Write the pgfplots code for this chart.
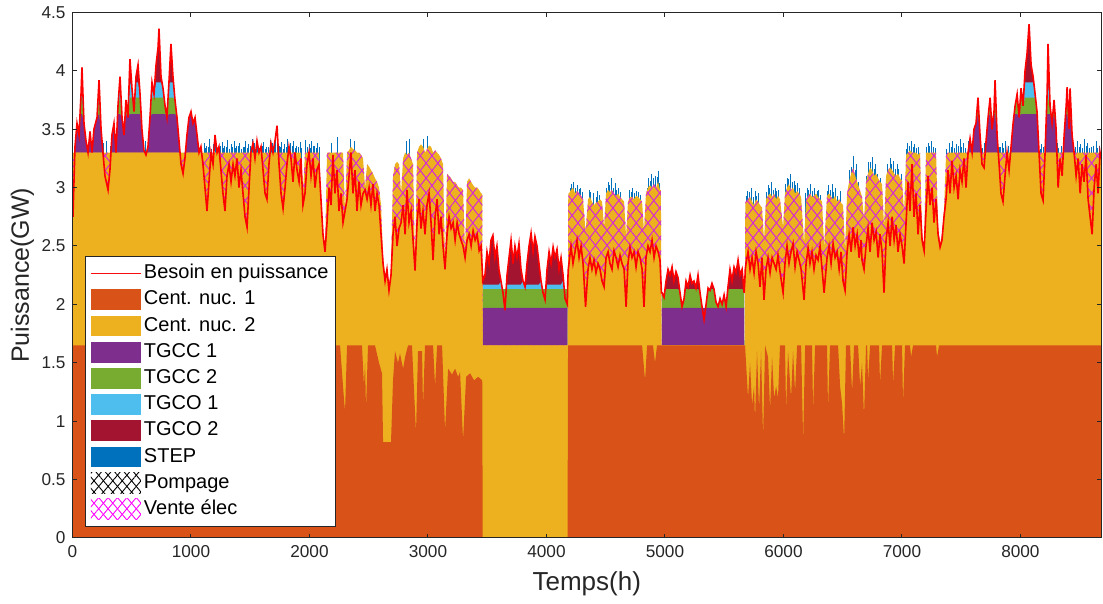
\documentclass[border=0pt]{standalone}
\usepackage{fontspec}
\setmainfont{Liberation Sans}
\usepackage{pgfplots}
\usepackage{pgfplotstable}
\pgfplotsset{compat=1.18}
\usetikzlibrary{patterns.meta}
\definecolor{nucA}{HTML}{D95319}
\definecolor{nucB}{HTML}{EDB120}
\definecolor{tgccA}{HTML}{7E2F8E}
\definecolor{tgccB}{HTML}{77AC30}
\definecolor{tgcoA}{HTML}{4DBEEE}
\definecolor{tgcoB}{HTML}{A2142F}
\definecolor{stepc}{HTML}{0072BD}
\definecolor{hatchc}{RGB}{215,40,215}
\definecolor{axcol}{RGB}{38,38,38}
\definecolor{demc}{RGB}{255,0,0}
\definecolor{demleg}{RGB}{250,12,12}

% main table: t, demand D, cumulative top of nuclear Y, M = nuclear part below demand
\pgfplotstableread{
t D Y M
4 2.75 3.3 2.75
21 3.35 3.3 3.3
38 3.55 3.3 3.3
55 3.45 3.3 3.3
72 3.8 3.3 3.3
80 4.03 3.3 3.3
97 3.55 3.3 3.3
114 3.4 3.3 3.3
131 3.3 3.3 3.3
148 3.48 3.3 3.3
165 3.3 3.3 3.3
181 3.5 3.3 3.3
207 3.6 3.3 3.3
224 3.92 3.3 3.3
241 3.5 3.3 3.3
257 3.3 3.3 3.3
274 3.1 3.3 3.1
300 2.98 3.3 2.98
316 3.15 3.3 3.15
333 3.45 3.3 3.3
350 3.55 3.3 3.3
367 3.3 3.3 3.3
384 3.7 3.3 3.3
401 3.95 3.3 3.3
418 3.6 3.3 3.3
435 3.45 3.3 3.3
451 3.75 3.3 3.3
468 3.6 3.3 3.3
485 4.1 3.3 3.3
502 3.85 3.3 3.3
519 3.65 3.3 3.3
536 3.95 3.3 3.3
553 4.05 3.3 3.3
570 3.8 3.3 3.3
586 3.5 3.3 3.3
603 3.32 3.3 3.3
620 3.28 3.3 3.28
637 3.35 3.3 3.3
654 3.6 3.3 3.3
671 3.9 3.3 3.3
688 3.8 3.3 3.3
705 4.05 3.3 3.3
722 4.2 3.3 3.3
730 4.36 3.3 3.3
747 3.95 3.3 3.3
764 3.85 3.3 3.3
781 3.7 3.3 3.3
797 3.6 3.3 3.3
814 3.9 3.3 3.3
831 4.23 3.3 3.3
848 3.95 3.3 3.3
865 3.75 3.3 3.3
882 3.6 3.3 3.3
899 3.4 3.3 3.3
916 3.2 3.3 3.2
933 3.12 3.3 3.12
949 3.25 3.3 3.25
966 3.45 3.3 3.3
983 3.6 3.3 3.3
1000 3.65 3.3 3.3
1017 3.55 3.3 3.3
1034 3.6 3.3 3.3
1051 3.45 3.3 3.3
1068 3.3 3.3 3.3
1084 3.35 3.3 3.3
1101 3.2 3.3 3.2
1118 3.0 3.3 3.0
1135 2.8 3.3 2.8
1152 3.05 3.3 3.05
1169 3.3 3.3 3.3
1186 3.2 3.3 3.2
1203 3.45 3.3 3.3
1220 3.3 3.3 3.3
1236 3.35 3.3 3.3
1253 3.15 3.3 3.15
1270 2.95 3.3 2.95
1287 2.8 3.3 2.8
1304 3.1 3.3 3.1
1321 3.2 3.3 3.2
1338 3.05 3.3 3.05
1355 3.2 3.3 3.2
1371 3.1 3.3 3.1
1388 3.25 3.3 3.25
1405 3.0 3.3 3.0
1422 3.15 3.3 3.15
1439 2.95 3.3 2.95
1456 2.75 3.3 2.75
1473 2.66 3.3 2.66
1490 3.0 3.3 3.0
1506 3.3 3.3 3.3
1523 3.38 3.3 3.3
1540 3.25 3.3 3.25
1557 3.4 3.3 3.3
1574 3.3 3.3 3.3
1591 3.35 3.3 3.3
1608 3.15 3.3 3.15
1625 2.95 3.3 2.95
1641 2.9 3.3 2.9
1658 3.2 3.3 3.2
1675 3.38 3.3 3.3
1692 3.3 3.3 3.3
1709 3.4 3.3 3.3
1726 3.53 3.3 3.3
1743 3.2 3.3 3.2
1760 2.95 3.3 2.95
1777 2.82 3.3 2.82
1794 3.0 3.3 3.0
1810 3.2 3.3 3.2
1827 3.35 3.3 3.3
1844 3.25 3.3 3.25
1861 3.05 3.3 3.05
1878 3.3 3.3 3.3
1895 3.15 3.3 3.15
1912 3.05 3.3 3.05
1928 3.25 3.3 3.25
1945 2.85 2.95 2.85
1962 2.95 3.3 2.95
1979 3.2 3.3 3.2
1996 3.3 3.3 3.3
2013 3.1 3.3 3.1
2030 3.25 3.3 3.25
2047 3.0 3.3 3.0
2063 3.15 3.3 3.15
2080 3.2 3.3 3.2
2097 2.9 2.9 2.9
2114 2.6 2.6 2.6
2131 2.45 2.45 2.45
2148 2.7 3.3 2.7
2165 3.0 3.3 3.0
2182 2.85 3.3 2.85
2198 3.28 3.3 3.28
2215 2.95 3.3 2.95
2232 3.15 3.3 3.15
2249 2.8 3.3 2.8
2266 2.95 3.3 2.95
2283 2.7 3.3 2.7
2300 2.8 2.8 2.8
2317 2.9 3.3 2.9
2334 3.1 3.32 3.1
2350 3.3 3.35 3.3
2367 2.95 3.33 2.95
2384 3.15 3.32 3.15
2401 2.8 3.3 2.8
2418 3.05 3.3 3.05
2435 2.85 3.28 2.85
2452 2.95 3.25 2.95
2469 2.98 3.0 2.98
2486 2.9 3.2 2.9
2503 3.0 3.18 3.0
2519 2.85 3.15 2.85
2536 3.03 3.12 3.03
2553 2.8 3.08 2.8
2570 2.95 3.05 2.95
2587 2.85 3.0 2.85
2604 2.6 2.85 2.6
2621 2.35 2.4 2.35
2638 2.2 2.25 2.2
2654 2.3 2.32 2.3
2671 2.12 2.15 2.12
2688 2.25 2.3 2.25
2705 2.6 3.1 2.6
2722 2.75 3.2 2.75
2739 2.5 3.22 2.5
2756 2.65 3.2 2.65
2773 2.7 2.95 2.7
2790 2.85 3.25 2.85
2807 2.6 3.3 2.6
2823 2.98 3.28 2.98
2840 2.7 3.3 2.7
2857 2.8 3.25 2.8
2874 2.55 3.2 2.55
2891 2.29 2.35 2.29
2908 2.7 3.3 2.7
2925 2.9 3.35 2.9
2941 2.65 3.37 2.65
2958 2.8 3.35 2.8
2975 2.6 3.3 2.6
2992 2.85 3.33 2.85
3009 2.95 3.36 2.95
3026 2.7 3.35 2.7
3043 2.38 3.3 2.38
3060 2.75 3.32 2.75
3077 2.9 3.3 2.9
3094 2.6 3.28 2.6
3110 2.75 3.25 2.75
3127 2.5 3.2 2.5
3144 2.3 2.35 2.3
3161 2.6 3.12 2.6
3178 2.75 3.1 2.75
3195 2.65 3.08 2.65
3212 2.7 3.05 2.7
3229 2.55 3.05 2.55
3246 2.7 3.02 2.7
3263 2.6 3.0 2.6
3279 2.55 3.0 2.55
3296 2.5 2.98 2.5
3313 2.4 2.45 2.4
3330 2.55 3.05 2.55
3347 2.6 3.08 2.6
3364 2.5 3.05 2.5
3381 2.63 3.02 2.63
3398 2.55 3.0 2.55
3415 2.6 3.0 2.6
3432 2.46 2.98 2.46
3448 2.5 2.95 2.5
3458 2.3 2.95 2.3
3462 2.2 1.65 1.65
3481 2.25 1.65 1.65
3498 2.45 1.65 1.65
3515 2.35 1.65 1.65
3532 2.55 1.65 1.65
3548 2.59 1.65 1.65
3565 2.4 1.65 1.65
3582 2.5 1.65 1.65
3599 2.3 1.65 1.65
3616 2.2 1.65 1.65
3633 2.1 1.65 1.65
3650 1.95 1.65 1.65
3667 2.25 1.65 1.65
3684 2.4 1.65 1.65
3701 2.55 1.65 1.65
3718 2.35 1.65 1.65
3734 2.5 1.65 1.65
3751 2.4 1.65 1.65
3768 2.52 1.65 1.65
3785 2.3 1.65 1.65
3802 2.2 1.65 1.65
3819 2.15 1.65 1.65
3836 2.35 1.65 1.65
3853 2.5 1.65 1.65
3870 2.61 1.65 1.65
3887 2.45 1.65 1.65
3903 2.58 1.65 1.65
3920 2.5 1.65 1.65
3937 2.35 1.65 1.65
3954 2.2 1.65 1.65
3971 2.1 1.65 1.65
3988 2.04 1.65 1.65
4005 2.3 1.65 1.65
4022 2.45 1.65 1.65
4039 2.35 1.65 1.65
4056 2.49 1.65 1.65
4072 2.4 1.65 1.65
4089 2.47 1.65 1.65
4106 2.3 1.65 1.65
4123 2.4 1.65 1.65
4140 2.25 1.65 1.65
4157 2.05 1.65 1.65
4176 2.0 1.65 1.65
4180 2.2 1.65 1.65
4184 2.3 2.95 2.3
4190 2.35 2.95 2.35
4207 2.5 2.98 2.5
4224 2.35 3.0 2.35
4241 2.45 2.95 2.45
4258 2.55 2.97 2.55
4275 2.4 2.95 2.4
4292 2.5 2.93 2.5
4309 2.35 2.9 2.35
4330 1.98 2.62 1.98
4351 2.3 2.9 2.3
4367 2.4 2.92 2.4
4384 2.3 2.88 2.3
4401 2.38 2.85 2.38
4418 2.27 2.87 2.27
4435 2.35 2.88 2.35
4452 2.3 2.9 2.3
4469 2.2 2.88 2.2
4486 2.15 2.66 2.15
4503 2.4 2.95 2.4
4520 2.45 2.98 2.45
4536 2.35 2.96 2.35
4553 2.3 2.98 2.3
4570 2.46 2.95 2.46
4587 2.4 2.93 2.4
4604 2.32 2.95 2.32
4621 2.42 2.92 2.42
4638 2.35 2.9 2.35
4655 2.3 2.88 2.3
4672 1.98 2.58 1.98
4688 2.35 2.88 2.35
4705 2.49 2.92 2.49
4722 2.4 2.92 2.4
4739 2.45 2.9 2.45
4756 2.32 2.93 2.32
4773 2.45 2.92 2.45
4790 2.4 2.9 2.4
4807 2.3 2.88 2.3
4823 1.98 2.63 1.98
4840 2.4 2.95 2.4
4857 2.5 3.0 2.5
4874 2.45 3.02 2.45
4891 2.55 3.0 2.55
4908 2.4 3.03 2.4
4925 2.5 3.0 2.5
4942 2.45 3.05 2.45
4958 2.38 2.98 2.38
4966 2.2 2.98 2.2
4970 2.1 1.65 1.65
4975 2.1 1.65 1.65
4992 2.06 1.65 1.65
5009 2.2 1.65 1.65
5026 2.3 1.65 1.65
5043 2.25 1.65 1.65
5060 2.32 1.65 1.65
5076 2.2 1.65 1.65
5093 2.28 1.65 1.65
5110 2.23 1.65 1.65
5127 2.1 1.65 1.65
5144 1.98 1.65 1.65
5161 2.05 1.65 1.65
5178 2.2 1.65 1.65
5195 2.15 1.65 1.65
5212 2.25 1.65 1.65
5228 2.18 1.65 1.65
5245 2.2 1.65 1.65
5262 2.14 1.65 1.65
5279 2.25 1.65 1.65
5296 2.1 1.65 1.65
5313 1.98 1.65 1.65
5330 1.87 1.65 1.65
5347 2.0 1.65 1.65
5364 2.14 1.65 1.65
5380 2.12 1.65 1.65
5397 2.18 1.65 1.65
5414 2.13 1.65 1.65
5431 2.02 1.65 1.65
5448 1.98 1.65 1.65
5465 2.05 1.65 1.65
5482 2.0 1.65 1.65
5499 2.08 1.65 1.65
5516 1.98 1.65 1.65
5532 2.15 1.65 1.65
5549 2.3 1.65 1.65
5566 2.2 1.65 1.65
5583 2.32 1.65 1.65
5600 2.27 1.65 1.65
5617 2.38 1.65 1.65
5634 2.25 1.65 1.65
5651 2.3 1.65 1.65
5668 2.1 1.65 1.65
5674 2.2 1.65 1.65
5678 2.3 2.88 2.3
5684 2.35 2.88 2.35
5701 2.45 2.9 2.45
5718 2.3 2.92 2.3
5735 2.4 2.88 2.4
5752 2.27 2.85 2.27
5769 2.45 2.9 2.45
5786 2.35 2.88 2.35
5802 2.15 2.85 2.15
5819 2.4 2.83 2.4
5836 2.04 2.55 2.04
5853 2.3 2.9 2.3
5870 2.4 2.93 2.4
5887 2.27 2.95 2.27
5904 2.4 2.92 2.4
5921 2.35 2.95 2.35
5938 2.3 2.9 2.3
5954 2.42 2.93 2.42
5971 2.28 2.9 2.28
5997 2.1 2.66 2.1
6013 2.35 2.95 2.35
6030 2.5 3.0 2.5
6047 2.35 3.03 2.35
6064 2.45 2.98 2.45
6081 2.52 3.0 2.52
6098 2.32 2.95 2.32
6115 2.45 2.97 2.45
6132 2.38 2.95 2.38
6149 2.3 2.92 2.3
6174 2.04 2.52 2.04
6191 2.35 2.9 2.35
6208 2.48 2.93 2.48
6224 2.35 2.95 2.35
6241 2.45 2.92 2.45
6258 2.3 2.93 2.3
6275 2.42 2.95 2.42
6292 2.38 2.92 2.38
6309 2.5 2.9 2.5
6326 2.3 2.88 2.3
6343 2.1 2.49 2.1
6368 2.4 2.93 2.4
6385 2.5 2.95 2.5
6402 2.35 2.92 2.35
6419 2.52 2.9 2.52
6436 2.4 2.93 2.4
6453 2.45 2.88 2.45
6470 2.3 2.9 2.3
6486 2.45 2.87 2.45
6503 2.2 2.85 2.2
6520 2.12 2.46 2.12
6537 2.45 2.95 2.45
6554 2.6 3.05 2.6
6571 2.45 3.12 2.45
6588 2.66 3.17 2.66
6605 2.5 3.1 2.5
6622 2.6 3.05 2.6
6638 2.4 3.0 2.4
6655 2.55 2.95 2.55
6663 2.38 2.92 2.38
6680 2.3 2.72 2.3
6697 2.5 3.05 2.5
6714 2.65 3.12 2.65
6731 2.45 3.17 2.45
6748 2.7 3.15 2.7
6765 2.55 3.1 2.55
6782 2.62 3.12 2.62
6799 2.4 3.08 2.4
6815 2.6 3.05 2.6
6832 2.45 3.03 2.45
6849 2.1 2.66 2.1
6866 2.55 3.1 2.55
6883 2.7 3.15 2.7
6900 2.5 3.17 2.5
6917 2.75 3.15 2.75
6934 2.55 3.12 2.55
6950 2.68 3.1 2.68
6967 2.45 3.12 2.45
6984 2.6 3.08 2.6
7001 2.5 3.06 2.5
7018 2.35 2.78 2.35
7035 2.7 3.28 2.7
7052 3.05 3.3 3.05
7068 2.8 3.32 2.8
7085 3.2 3.3 3.2
7102 2.75 3.3 2.75
7119 2.95 3.3 2.95
7136 2.6 3.28 2.6
7153 2.85 3.3 2.85
7170 2.55 2.6 2.55
7187 2.46 2.5 2.46
7203 2.8 3.3 2.8
7220 3.1 3.3 3.1
7237 2.85 3.3 2.85
7254 3.0 3.3 3.0
7271 2.7 3.3 2.7
7288 2.9 3.3 2.9
7305 2.6 2.65 2.6
7322 2.49 2.52 2.49
7338 2.55 2.6 2.55
7355 2.75 2.8 2.75
7372 2.9 3.28 2.9
7389 3.15 3.3 3.15
7406 2.95 3.3 2.95
7423 3.23 3.3 3.23
7440 3.0 3.3 3.0
7457 3.1 3.3 3.1
7474 2.9 3.3 2.9
7490 3.15 3.3 3.15
7507 3.05 3.3 3.05
7524 3.25 3.3 3.25
7541 3.0 3.3 3.0
7558 3.3 3.3 3.3
7575 3.42 3.3 3.3
7592 3.3 3.3 3.3
7608 3.5 3.3 3.3
7625 3.55 3.3 3.3
7642 3.77 3.3 3.3
7659 3.45 3.3 3.3
7676 3.2 3.3 3.2
7693 3.17 3.3 3.17
7710 3.4 3.3 3.3
7727 3.6 3.3 3.3
7744 3.77 3.3 3.3
7760 3.5 3.3 3.3
7777 3.65 3.3 3.3
7786 3.92 3.3 3.3
7803 3.45 3.3 3.3
7820 3.2 3.3 3.2
7836 2.95 3.3 2.95
7853 2.88 3.3 2.88
7870 3.1 3.3 3.1
7887 3.3 3.3 3.3
7904 3.15 3.3 3.15
7921 3.35 3.3 3.3
7938 3.55 3.3 3.3
7955 3.7 3.3 3.3
7972 3.8 3.3 3.3
7989 3.6 3.3 3.3
8005 3.85 3.3 3.3
8022 3.7 3.3 3.3
8039 4.0 3.3 3.3
8056 4.15 3.3 3.3
8073 4.4 3.3 3.3
8090 4.05 3.3 3.3
8107 3.95 3.3 3.3
8124 3.8 3.3 3.3
8140 3.65 3.3 3.3
8157 3.3 3.3 3.3
8174 2.95 3.3 2.95
8191 2.89 3.3 2.89
8208 3.3 3.3 3.3
8225 3.8 3.3 3.3
8233 4.23 3.3 3.3
8250 3.7 3.3 3.3
8267 3.55 3.3 3.3
8284 3.75 3.3 3.3
8301 3.5 3.3 3.3
8318 3.0 3.3 3.0
8335 3.25 3.3 3.25
8352 3.1 3.3 3.1
8369 3.45 3.3 3.3
8386 3.7 3.3 3.3
8394 3.86 3.3 3.3
8411 3.5 3.3 3.3
8419 3.85 3.3 3.3
8436 3.45 3.3 3.3
8453 3.3 3.3 3.3
8470 3.1 3.3 3.1
8487 3.25 3.3 3.25
8504 2.95 3.3 2.95
8520 3.2 3.3 3.2
8537 3.05 3.3 3.05
8554 3.28 3.3 3.28
8571 2.9 3.3 2.9
8588 2.75 3.3 2.75
8605 2.6 3.3 2.6
8622 3.0 3.3 3.0
8639 3.2 3.3 3.2
8655 2.95 3.3 2.95
8672 3.3 3.3 3.3
8680 3.25 3.3 3.25
}\mainT

% cumulative tops of TGCC 1 (P), TGCC 2 (G), TGCO 1 (B), TGCO 2 (R)
\pgfplotstableread{
t P G B R
4 2.75 2.75 2.75 2.75
21 3.35 3.35 3.35 3.35
38 3.55 3.55 3.55 3.55
55 3.45 3.45 3.45 3.45
72 3.63 3.77 3.8 3.8
80 3.63 3.77 3.9 4.03
97 3.55 3.55 3.55 3.55
114 3.4 3.4 3.4 3.4
131 3.3 3.3 3.3 3.3
148 3.48 3.48 3.48 3.48
165 3.3 3.3 3.3 3.3
181 3.5 3.5 3.5 3.5
207 3.6 3.6 3.6 3.6
224 3.63 3.77 3.9 3.92
241 3.5 3.5 3.5 3.5
257 3.3 3.3 3.3 3.3
274 3.1 3.1 3.1 3.1
300 2.98 2.98 2.98 2.98
316 3.15 3.15 3.15 3.15
333 3.45 3.45 3.45 3.45
350 3.55 3.55 3.55 3.55
367 3.3 3.3 3.3 3.3
384 3.63 3.7 3.7 3.7
401 3.63 3.77 3.9 3.95
418 3.6 3.6 3.6 3.6
435 3.45 3.45 3.45 3.45
451 3.63 3.75 3.75 3.75
468 3.6 3.6 3.6 3.6
485 3.63 3.77 3.9 4.1
502 3.63 3.77 3.85 3.85
519 3.63 3.65 3.65 3.65
536 3.63 3.77 3.9 3.95
553 3.63 3.77 3.9 4.05
570 3.63 3.77 3.8 3.8
586 3.5 3.5 3.5 3.5
603 3.32 3.32 3.32 3.32
620 3.28 3.28 3.28 3.28
637 3.35 3.35 3.35 3.35
654 3.6 3.6 3.6 3.6
671 3.63 3.77 3.9 3.9
688 3.63 3.77 3.8 3.8
705 3.63 3.77 3.9 4.05
722 3.63 3.77 3.9 4.2
730 3.63 3.77 3.9 4.36
747 3.63 3.77 3.9 3.95
764 3.63 3.77 3.85 3.85
781 3.63 3.7 3.7 3.7
797 3.6 3.6 3.6 3.6
814 3.63 3.77 3.9 3.9
831 3.63 3.77 3.9 4.23
848 3.63 3.77 3.9 3.95
865 3.63 3.75 3.75 3.75
882 3.6 3.6 3.6 3.6
899 3.4 3.4 3.4 3.4
916 3.2 3.2 3.2 3.2
933 3.12 3.12 3.12 3.12
949 3.25 3.25 3.25 3.25
966 3.45 3.45 3.45 3.45
983 3.6 3.6 3.6 3.6
1000 3.63 3.65 3.65 3.65
1017 3.55 3.55 3.55 3.55
1034 3.6 3.6 3.6 3.6
1051 3.45 3.45 3.45 3.45
1068 3.3 3.3 3.3 3.3
1084 3.35 3.35 3.35 3.35
1092 0 0 0 0
3455 0 0 0 0
3462 1.97 2.13 2.17 2.2
3481 1.97 2.13 2.17 2.25
3498 1.97 2.13 2.17 2.45
3515 1.97 2.13 2.17 2.35
3532 1.97 2.13 2.17 2.55
3548 1.97 2.13 2.17 2.59
3565 1.97 2.13 2.17 2.4
3582 1.97 2.13 2.17 2.5
3599 1.97 2.13 2.17 2.3
3616 1.97 2.13 2.2 2.2
3633 1.97 2.13 2.1 2.1
3650 1.97 2.13 1.95 1.95
3667 1.97 2.13 2.17 2.25
3684 1.97 2.13 2.17 2.4
3701 1.97 2.13 2.17 2.55
3718 1.97 2.13 2.17 2.35
3734 1.97 2.13 2.17 2.5
3751 1.97 2.13 2.17 2.4
3768 1.97 2.13 2.17 2.52
3785 1.97 2.13 2.17 2.3
3802 1.97 2.13 2.2 2.2
3819 1.97 2.13 2.15 2.15
3836 1.97 2.13 2.17 2.35
3853 1.97 2.13 2.17 2.5
3870 1.97 2.13 2.17 2.61
3887 1.97 2.13 2.17 2.45
3903 1.97 2.13 2.17 2.58
3920 1.97 2.13 2.17 2.5
3937 1.97 2.13 2.17 2.35
3954 1.97 2.13 2.2 2.2
3971 1.97 2.13 2.1 2.1
3988 1.97 2.13 2.04 2.04
4005 1.97 2.13 2.17 2.3
4022 1.97 2.13 2.17 2.45
4039 1.97 2.13 2.17 2.35
4056 1.97 2.13 2.17 2.49
4072 1.97 2.13 2.17 2.4
4089 1.97 2.13 2.17 2.47
4106 1.97 2.13 2.17 2.3
4123 1.97 2.13 2.17 2.4
4140 1.97 2.13 2.2 2.25
4157 1.97 2.13 2.05 2.05
4176 1.97 2.13 2.0 2.0
4180 0 0 0 0
4970 0 0 0 0
4975 1.97 2.1 2.1 2.1
4992 1.97 2.06 2.06 2.06
5009 1.97 2.13 2.13 2.2
5026 1.97 2.13 2.13 2.3
5043 1.97 2.13 2.13 2.25
5060 1.97 2.13 2.13 2.32
5076 1.97 2.13 2.13 2.2
5093 1.97 2.13 2.13 2.28
5110 1.97 2.13 2.13 2.23
5127 1.97 2.1 2.1 2.1
5144 1.97 1.98 1.98 1.98
5161 1.97 2.05 2.05 2.05
5178 1.97 2.13 2.13 2.2
5195 1.97 2.13 2.13 2.15
5212 1.97 2.13 2.13 2.25
5228 1.97 2.13 2.13 2.18
5245 1.97 2.13 2.13 2.2
5262 1.97 2.13 2.13 2.14
5279 1.97 2.13 2.13 2.25
5296 1.97 2.1 2.1 2.1
5313 1.97 1.98 1.98 1.98
5330 1.97 1.87 1.87 1.87
5347 1.97 2.0 2.0 2.0
5364 1.97 2.13 2.13 2.14
5380 1.97 2.12 2.12 2.12
5397 1.97 2.13 2.13 2.18
5414 1.97 2.13 2.13 2.13
5431 1.97 2.02 2.02 2.02
5448 1.97 1.98 1.98 1.98
5465 1.97 2.05 2.05 2.05
5482 1.97 2.0 2.0 2.0
5499 1.97 2.08 2.08 2.08
5516 1.97 1.98 1.98 1.98
5532 1.97 2.13 2.13 2.15
5549 1.97 2.13 2.13 2.3
5566 1.97 2.13 2.13 2.2
5583 1.97 2.13 2.13 2.32
5600 1.97 2.13 2.13 2.27
5617 1.97 2.13 2.13 2.38
5634 1.97 2.13 2.13 2.25
5651 1.97 2.13 2.13 2.3
5668 1.97 2.1 2.1 2.1
5674 0 0 0 0
7550 0 0 0 0
7558 3.3 3.3 3.3 3.3
7575 3.42 3.42 3.42 3.42
7592 3.3 3.3 3.3 3.3
7608 3.5 3.5 3.5 3.5
7625 3.55 3.55 3.55 3.55
7642 3.63 3.77 3.77 3.77
7659 3.45 3.45 3.45 3.45
7676 3.2 3.2 3.2 3.2
7693 3.17 3.17 3.17 3.17
7710 3.4 3.4 3.4 3.4
7727 3.6 3.6 3.6 3.6
7744 3.63 3.77 3.77 3.77
7760 3.5 3.5 3.5 3.5
7777 3.63 3.65 3.65 3.65
7786 3.63 3.77 3.9 3.92
7803 3.45 3.45 3.45 3.45
7820 3.2 3.2 3.2 3.2
7836 2.95 2.95 2.95 2.95
7853 2.88 2.88 2.88 2.88
7870 3.1 3.1 3.1 3.1
7887 3.3 3.3 3.3 3.3
7904 3.15 3.15 3.15 3.15
7921 3.35 3.35 3.35 3.35
7938 3.55 3.55 3.55 3.55
7955 3.63 3.7 3.7 3.7
7972 3.63 3.77 3.8 3.8
7989 3.6 3.6 3.6 3.6
8005 3.63 3.77 3.85 3.85
8022 3.63 3.7 3.7 3.7
8039 3.63 3.77 3.9 4.0
8056 3.63 3.77 3.9 4.15
8073 3.63 3.77 3.9 4.4
8090 3.63 3.77 3.9 4.05
8107 3.63 3.77 3.9 3.95
8124 3.63 3.77 3.8 3.8
8140 3.63 3.65 3.65 3.65
8157 3.3 3.3 3.3 3.3
8174 2.95 2.95 2.95 2.95
8191 2.89 2.89 2.89 2.89
8208 3.3 3.3 3.3 3.3
8225 3.63 3.77 3.8 3.8
8233 3.63 3.77 3.9 4.23
8250 3.63 3.7 3.7 3.7
8267 3.55 3.55 3.55 3.55
8284 3.63 3.75 3.75 3.75
8301 3.5 3.5 3.5 3.5
8318 3.0 3.0 3.0 3.0
8335 3.25 3.25 3.25 3.25
8352 3.1 3.1 3.1 3.1
8369 3.45 3.45 3.45 3.45
8386 3.63 3.7 3.7 3.7
8394 3.63 3.77 3.86 3.86
8411 3.5 3.5 3.5 3.5
8419 3.63 3.77 3.85 3.85
8436 3.45 3.45 3.45 3.45
8453 3.3 3.3 3.3 3.3
8470 3.1 3.1 3.1 3.1
}\layT

% top of Cent. nuc. 1
\pgfplotstableread{
t n
0 1.65
2258 1.65
2283 1.3
2300 1.08
2317 1.65
2443 1.65
2460 1.3
2469 1.5
2477 1.1
2494 1.65
2553 1.65
2587 1.5
2612 1.41
2621 0.82
2688 0.82
2705 1.35
2722 1.6
2747 1.5
2764 1.58
2790 1.45
2807 1.55
2832 1.65
2865 1.65
2899 0.9
2916 1.6
2950 1.6
2958 1.12
2975 1.65
3043 1.65
3060 1.3
3077 1.65
3119 1.65
3144 0.92
3170 1.45
3203 1.4
3229 1.45
3254 1.38
3271 1.42
3296 0.84
3322 1.38
3356 1.41
3389 1.35
3423 1.38
3458 1.35
3462 0
4178 0
4182 1.65
4807 1.65
4832 1.35
4849 1.65
4899 1.65
4916 1.5
4933 1.65
5676 1.65
5701 1.2
5718 1.5
5735 1.14
5752 1.3
5760 1.01
5777 1.6
5794 1.1
5811 1.6
5828 0.86
5845 1.65
5870 1.55
5887 1.1
5904 1.55
5921 1.2
5938 1.3
5954 1.2
5971 1.65
6013 1.65
6022 1.1
6039 1.6
6064 1.2
6081 1.6
6098 1.25
6115 1.65
6149 1.65
6166 0.84
6183 1.65
6241 1.65
6250 1.1
6267 1.65
6368 1.65
6376 1.1
6393 1.65
6461 1.65
6478 1.3
6495 1.15
6512 0.84
6528 1.65
6562 1.65
6579 1.25
6596 1.65
6630 1.65
6647 1.3
6663 1.5
6680 1.04
6697 1.65
6706 1.65
6714 1.35
6731 1.65
6807 1.65
6815 1.32
6832 1.65
6917 1.65
6925 1.32
6942 1.65
7001 1.65
7009 1.15
7026 1.65
7068 1.65
7077 1.55
7094 1.65
7288 1.65
7296 1.55
7313 1.65
8680 1.65
}\nucT

% STEP peaks
\pgfplotstableread{
t s
260 3.38
290 3.4
320 3.36
620 3.4
1110 3.38
1122 3.34
1135 3.36
1148 3.35
1160 3.42
1173 3.33
1186 3.37
1203 3.45
1211 3.4
1224 3.34
1236 3.35
1249 3.36
1262 3.39
1275 3.34
1287 3.36
1300 3.35
1312 3.41
1325 3.33
1338 3.37
1350 3.35
1363 3.4
1376 3.34
1388 3.36
1401 3.36
1413 3.38
1426 3.33
1439 3.35
1452 3.35
1464 3.4
1477 3.34
1489 3.37
1502 3.36
1515 3.42
1523 3.38
1528 3.34
1540 3.38
1553 3.35
1557 3.4
1565 3.4
1578 3.34
1591 3.36
1604 3.36
1616 3.39
1629 3.33
1641 3.35
1654 3.35
1667 3.41
1680 3.34
1692 3.38
1705 3.36
1709 3.4
1717 3.4
1726 3.53
1730 3.34
1743 3.36
1756 3.35
1768 3.39
1781 3.33
1793 3.37
1806 3.35
1818 3.42
1827 3.35
1831 3.34
1844 3.38
1857 3.36
1869 3.4
1882 3.34
1894 3.36
1907 3.35
1920 3.39
1932 3.34
1970 3.41
1983 3.35
1996 3.37
2008 3.34
2021 3.4
2034 3.36
2046 3.36
2059 3.34
2071 3.38
2084 3.35
2190 3.38
2240 3.43
2350 3.42
2380 3.4
2820 3.4
2840 3.42
2960 3.42
3000 3.44
4200 3.0
4215 3.03
4230 3.05
4245 3.0
4260 3.02
4275 2.99
4290 3.0
4300 2.96
4360 2.98
4375 2.96
4400 2.95
4420 2.92
4430 2.97
4445 2.94
4510 3.0
4520 3.05
4535 3.02
4550 3.08
4565 3.0
4580 3.04
4595 2.98
4610 3.0
4625 2.96
4700 2.98
4715 2.96
4730 3.0
4745 2.95
4760 2.97
4775 2.96
4795 2.94
4850 3.0
4860 3.08
4875 3.06
4890 3.12
4905 3.08
4920 3.1
4935 3.09
4945 3.14
4955 3.04
5690 2.93
5700 2.97
5715 2.96
5730 3.0
5745 2.92
5760 2.97
5775 2.93
5790 2.95
5860 2.96
5870 3.02
5885 3.0
5900 3.05
5915 2.98
5930 3.0
5945 2.97
5960 2.98
6020 3.03
6030 3.08
6045 3.07
6060 3.12
6075 3.05
6090 3.06
6105 3.02
6120 3.04
6135 3.0
6190 2.95
6200 3.0
6215 2.98
6230 3.03
6245 2.97
6260 3.0
6285 2.97
6300 2.98
6315 2.94
6375 2.97
6380 3.02
6395 2.98
6410 3.03
6425 2.96
6440 3.0
6455 2.93
6480 2.97
6545 3.0
6560 3.15
6575 3.18
6590 3.27
6605 3.15
6620 3.2
6635 3.05
6705 3.1
6720 3.22
6735 3.22
6750 3.26
6765 3.16
6780 3.2
6795 3.12
6820 3.08
6875 3.2
6900 3.25
6915 3.2
6930 3.23
6945 3.16
6960 3.2
6975 3.16
6995 3.12
7040 3.33
7050 3.38
7065 3.36
7080 3.4
7095 3.35
7110 3.37
7125 3.34
7140 3.35
7210 3.35
7220 3.38
7235 3.36
7250 3.4
7265 3.35
7280 3.34
7380 3.33
7400 3.38
7415 3.35
7430 3.4
7445 3.34
7460 3.37
7475 3.36
7490 3.42
7505 3.35
7520 3.38
7535 3.34
7560 3.4
7580 3.36
7600 3.45
7680 3.34
7700 3.38
7820 3.35
7830 3.35
7845 3.38
7860 3.34
7870 3.4
7900 3.36
8170 3.33
8180 3.37
8195 3.35
8310 3.38
8325 3.34
8345 3.36
8465 3.35
8480 3.4
8495 3.35
8510 3.37
8525 3.34
8540 3.42
8555 3.36
8570 3.38
8585 3.34
8600 3.35
8615 3.36
8640 3.4
8650 3.34
8670 3.36
}\stepT

\begin{document}
\begin{tikzpicture}
\begin{axis}[
  name=ax,
  scale only axis,
  width=514.25pt, height=262.8pt,
  xmin=0, xmax=8680, ymin=0, ymax=4.5,
  xtick={0,1000,2000,3000,4000,5000,6000,7000,8000},
  ytick={0,0.5,1,1.5,2,2.5,3,3.5,4,4.5},
  tick align=inside,
  major tick length=2.2pt,
  axis on top,
  axis line style={draw=axcol, line width=0.5pt},
  every tick/.style={draw=axcol, line width=0.5pt},
  tick label style={font=\fontsize{8.6}{10}\selectfont, text=axcol},
  /pgf/number format/assume math mode=true,
  /pgf/number format/1000 sep={},
  xlabel={Temps(h)}, ylabel={Puissance(GW)},
  every axis x label/.style={at={(axis description cs:0.5,0)}, yshift=-23pt, anchor=center, font=\fontsize{13}{15}\selectfont, text=axcol},
  every axis y label/.style={at={(axis description cs:0,0.5)}, xshift=-25pt, rotate=90, anchor=center, font=\fontsize{12.5}{15}\selectfont, text=axcol},
  legend cell align=left,
  legend style={at={(axis description cs:0.0126,0.021)}, anchor=south west,
    draw=axcol, line width=0.5pt, fill=white, inner sep=2.5pt,
    font=\fontsize{10}{12}\selectfont, row sep=1.0pt, column sep=0.5pt,
    nodes={inner sep=1pt, text height=7.6pt, text depth=2.5pt}},
]
% STEP peaks
\addplot[ycomb, draw=stepc, line width=0.5pt, forget plot] table[x=t,y=s] {\stepT};
% TGCO 2, TGCO 1, TGCC 2, TGCC 1 (cumulative tops)
\addplot[fill=tgcoB, draw=none, forget plot] table[x=t,y=R] {\layT} \closedcycle;
\addplot[fill=tgcoA, draw=none, forget plot] table[x=t,y=B] {\layT} \closedcycle;
\addplot[fill=tgccB, draw=none, forget plot] table[x=t,y=G] {\layT} \closedcycle;
\addplot[fill=tgccA, draw=none, forget plot] table[x=t,y=P] {\layT} \closedcycle;
% Cent. nuc. 2 (cumulative top)
\addplot[fill=nucB, draw=none, forget plot] table[x=t,y=Y] {\mainT} \closedcycle;
% Vente elec hatch over the nuclear area, then the part below demand repainted
\addplot[pattern={Lines[angle=52,distance=4.6pt,line width=0.5pt]}, pattern color=hatchc, draw=none, forget plot] table[x=t,y=Y] {\mainT} \closedcycle;
\addplot[pattern={Lines[angle=-52,distance=4.6pt,line width=0.5pt]}, pattern color=hatchc, draw=none, forget plot] table[x=t,y=Y] {\mainT} \closedcycle;
\addplot[fill=nucB, draw=none, forget plot] table[x=t,y=M] {\mainT} \closedcycle;
% Cent. nuc. 1
\addplot[fill=nucA, draw=none, forget plot] table[x=t,y=n] {\nucT} \closedcycle;
% demand
\addplot[draw=demc, line width=0.8pt, forget plot] table[x=t,y=D] {\mainT};

% legend
\addlegendimage{legend image code/.code={\path[fill=white, draw=none] (0pt,-0.1pt) rectangle (0.1pt,0.1pt);\path[fill=demleg, draw=none] (0pt,-0.4pt) rectangle (25pt,0.4pt);}}
\addlegendentry{Besoin en puissance}
\addlegendimage{legend image code/.code={\path[fill=nucA, draw=none] (0pt,-5.2pt) rectangle (25pt,5.2pt);}}
\addlegendentry{Cent. nuc. 1}
\addlegendimage{legend image code/.code={\path[fill=nucB, draw=none] (0pt,-5.2pt) rectangle (25pt,5.2pt);}}
\addlegendentry{Cent. nuc. 2}
\addlegendimage{legend image code/.code={\path[fill=tgccA, draw=none] (0pt,-5.2pt) rectangle (25pt,5.2pt);}}
\addlegendentry{TGCC 1}
\addlegendimage{legend image code/.code={\path[fill=tgccB, draw=none] (0pt,-5.2pt) rectangle (25pt,5.2pt);}}
\addlegendentry{TGCC 2}
\addlegendimage{legend image code/.code={\path[fill=tgcoA, draw=none] (0pt,-5.2pt) rectangle (25pt,5.2pt);}}
\addlegendentry{TGCO 1}
\addlegendimage{legend image code/.code={\path[fill=tgcoB, draw=none] (0pt,-5.2pt) rectangle (25pt,5.2pt);}}
\addlegendentry{TGCO 2}
\addlegendimage{legend image code/.code={\path[fill=stepc, draw=none] (0pt,-5.2pt) rectangle (25pt,5.2pt);}}
\addlegendentry{STEP}
\addlegendimage{legend image code/.code={\path[pattern={Lines[angle=50,distance=3.6pt,line width=0.45pt]}, pattern color=black, draw=none] (0pt,-5.2pt) rectangle (25pt,5.2pt);\path[pattern={Lines[angle=-50,distance=3.6pt,line width=0.45pt]}, pattern color=black, draw=none] (0pt,-5.2pt) rectangle (25pt,5.2pt);}}
\addlegendentry{Pompage}
\addlegendimage{legend image code/.code={\path[pattern={Lines[angle=50,distance=3.6pt,line width=0.45pt]}, pattern color=magenta, draw=none] (0pt,-5.2pt) rectangle (25pt,5.2pt);\path[pattern={Lines[angle=-50,distance=3.6pt,line width=0.45pt]}, pattern color=magenta, draw=none] (0pt,-5.2pt) rectangle (25pt,5.2pt);}}
\addlegendentry{Vente élec}
\end{axis}
\pgfresetboundingbox
\path[use as bounding box] ([shift={(-36.25pt,-33pt)}]ax.south west) rectangle ([shift={(1pt,6.2pt)}]ax.north east);
\end{tikzpicture}
\end{document}
